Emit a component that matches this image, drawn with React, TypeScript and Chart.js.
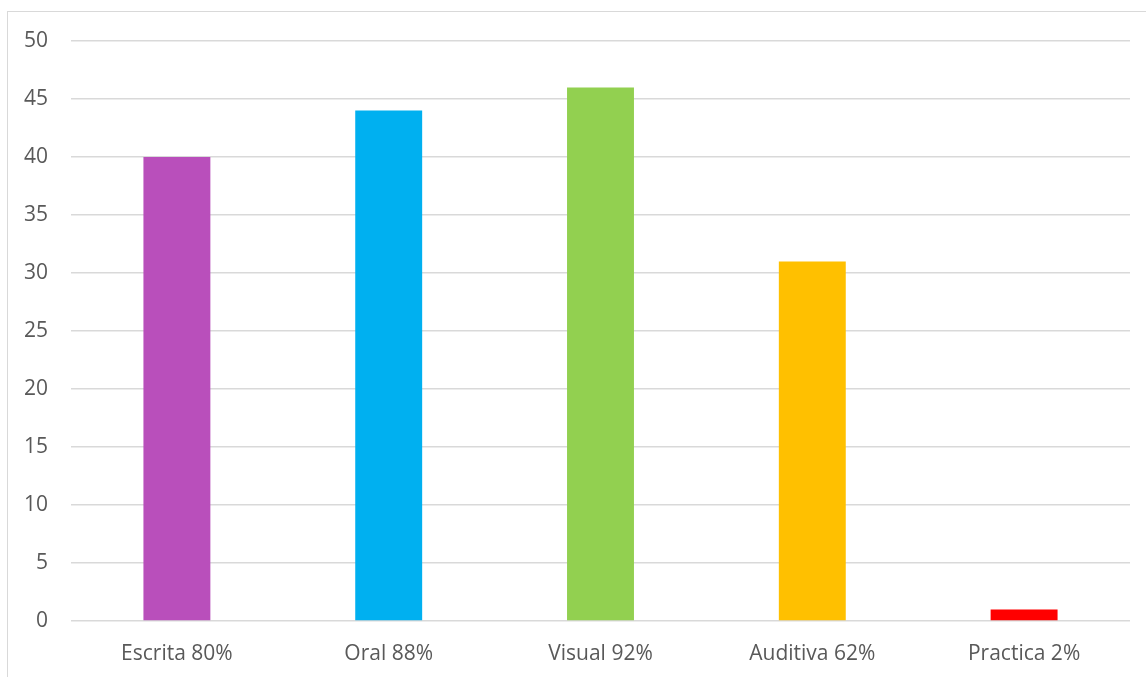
import React, { useEffect, useRef } from "react";
import { Chart, registerables } from "chart.js";

Chart.register(...registerables);

const categories = ["Escrita 80%", "Oral 88%", "Visual 92%", "Auditiva 62%", "Practica 2%"];
const values = [40, 44, 46, 31, 1];
const barColors = ["#B94FBB", "#00B0F0", "#92D050", "#FFC000", "#FF0000"];

export default function App() {
  const ref = useRef<HTMLCanvasElement | null>(null);

  useEffect(() => {
    if (!ref.current) return;
    const chart = new Chart(ref.current, {
      type: "bar",
      data: {
        labels: categories,
        datasets: [
          {
            data: values,
            backgroundColor: barColors,
            borderWidth: 0,
            categoryPercentage: 1,
            barPercentage: 0.316,
          },
        ],
      },
      options: {
        animation: false,
        responsive: false,
        maintainAspectRatio: false,
        layout: { padding: { top: 41, right: 16, bottom: 11, left: 0 } },
        plugins: { legend: { display: false }, tooltip: { enabled: false } },
        scales: {
          x: {
            afterFit: (scale: any) => {
              scale.height = 45;
            },
            grid: { display: false, drawTicks: false },
            border: { display: false },
            ticks: {
              color: "#595959",
              font: { family: "Open Sans", size: 21 },
              padding: 20,
              maxRotation: 0,
            },
          },
          y: {
            min: 0,
            max: 50,
            afterFit: (scale: any) => {
              scale.width = 71;
            },
            grid: { color: "#d9d9d9", lineWidth: 1.5, drawTicks: false },
            border: { display: false },
            ticks: {
              stepSize: 5,
              color: "#595959",
              font: { family: "Open Sans", size: 21 },
              padding: 23,
            },
          },
        },
      },
    });
    return () => chart.destroy();
  }, []);

  return (
    <div style={{ position: "absolute", left: 0, top: 0, width: 1146, height: 677, background: "#fff" }}>
      <div
        style={{
          position: "absolute",
          left: 7,
          top: 11,
          width: 1139,
          height: 666,
          borderLeft: "1.5px solid #d9d9d9",
          borderTop: "1.5px solid #d9d9d9",
          boxSizing: "border-box",
        }}
      />
      <canvas ref={ref} width={1146} height={677} style={{ position: "absolute", left: 0, top: 0 }} />
    </div>
  );
}
